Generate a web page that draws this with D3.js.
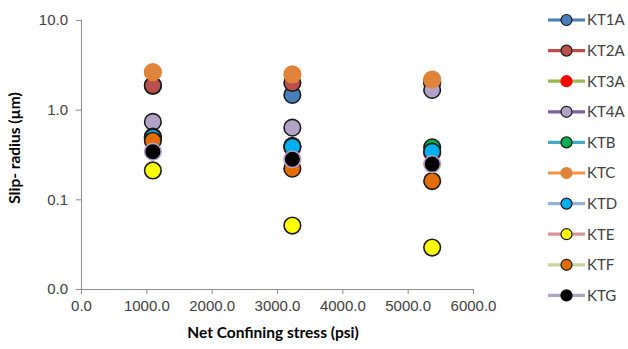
<!DOCTYPE html>
<html lang="en">
<head>
<meta charset="UTF-8">
<title>Slip radius vs net confining stress</title>
<style>
  body { margin: 0; background: #fff; }
  svg { display: block; font-family: Lato, "Open Sans", sans-serif; }
  .tick text { font-size: 15px; fill: #404040; }
  .axis path, .axis line { stroke: #8c8c8c; }
  .title { font-size: 15.5px; font-weight: bold; fill: #000; }
  .legend text { font-size: 15px; fill: #404040; }
</style>
</head>
<body>
<svg width="628" height="349"></svg>
<script src="https://d3js.org/d3.v7.min.js"></script>
<script>
const stress = [1100, 3235, 5375];

const names = ["KT1A", "KT2A", "KT3A", "KT4A", "KTB", "KTC", "KTD", "KTE", "KTF", "KTG"];

// slip radius (um) at each stress level
const kt1a = [1.85, 1.46, 2.0];
const kt2a = [1.86, 1.99, 2.05];
const kt3a = [0.47, 0.38, 0.33];
const kt4a = [0.73, 0.63, 1.66];
const ktb  = [0.50, 0.395, 0.38];
const ktc  = [2.62, 2.47, 2.17];
const ktd  = [0.49, 0.385, 0.34];
const kte  = [0.21, 0.051, 0.029];
const ktf  = [0.45, 0.22, 0.16];
const ktg  = [0.34, 0.28, 0.247];
const values = [kt1a, kt2a, kt3a, kt4a, ktb, ktc, ktd, kte, ktf, ktg];

const xTicks = [0, 1000, 2000, 3000, 4000, 5000, 6000];
const yTicks = [0.01, 0.1, 1, 10];

// marker fill, marker border, legend line colour
const fills   = ["#4a7ebb", "#b9504b", "#ff0000", "#b3a2c7", "#00b050", "#e0843c", "#00b0f0", "#ffff00", "#e36c09", "#000000"];
const borders = ["#1a1a1a", "#1a1a1a", "#ff0000", "#1a1a1a", "#1a1a1a", "#e0843c", "#1a1a1a", "#1a1a1a", "#1a1a1a", "#b3a2c7"];
const lines   = ["#4a7ebb", "#be4b48", "#98b954", "#7d60a0", "#46aac5", "#f69240", "#95b3d7", "#d99694", "#c3d69b", "#b3a2c7"];

const svg = d3.select("svg");

const x = d3.scaleLinear().domain([0, 6000]).range([81, 473]);
const y = d3.scaleLog().domain([0.01, 10]).range([289, 20]);

svg.append("g")
  .attr("class", "axis")
  .attr("transform", "translate(0,289)")
  .call(d3.axisBottom(x).tickValues(xTicks).tickSize(5).tickPadding(6).tickFormat(d => d.toFixed(1)))
  .select(".domain").attr("d", "M81,0.5H473");

svg.append("g")
  .attr("class", "axis")
  .attr("transform", "translate(81,0)")
  .call(d3.axisLeft(y).tickValues(yTicks).tickSize(5).tickPadding(8).tickFormat(d => d.toFixed(1)))
  .select(".domain").attr("d", "M0.5,20V289");

svg.append("text")
  .attr("class", "title")
  .attr("x", 273).attr("y", 338)
  .attr("text-anchor", "middle")
  .text("Net Confining stress (psi)");

svg.append("text")
  .attr("class", "title")
  .attr("transform", "translate(20,148) rotate(-90)")
  .attr("text-anchor", "middle")
  .text("Slip- radius (µm)");

// points, later series drawn on top
names.forEach((n, i) => {
  svg.append("g")
    .selectAll("circle")
    .data(values[i].map((v, j) => ({ x: stress[j], v: v })))
    .join("circle")
    .attr("cx", d => x(d.x))
    .attr("cy", d => y(d.v))
    .attr("r", 8.3)
    .attr("fill", fills[i])
    .attr("stroke", borders[i])
    .attr("stroke-width", 1.6);
});

// legend
const legend = svg.append("g").attr("class", "legend")
  .selectAll("g")
  .data(names)
  .join("g")
  .attr("transform", (d, i) => `translate(0,${20 + i * 30.6})`);

legend.append("line")
  .attr("x1", 548).attr("x2", 585)
  .attr("stroke", (d, i) => lines[i])
  .attr("stroke-width", 3.2);

legend.append("circle")
  .attr("cx", 566.5)
  .attr("r", 5.5)
  .attr("fill", (d, i) => fills[i])
  .attr("stroke", (d, i) => borders[i] === "#b3a2c7" ? fills[i] : borders[i])
  .attr("stroke-width", 1.2);

legend.append("text")
  .attr("x", 587)
  .attr("dy", "0.36em")
  .text(d => d);
</script>
</body>
</html>
